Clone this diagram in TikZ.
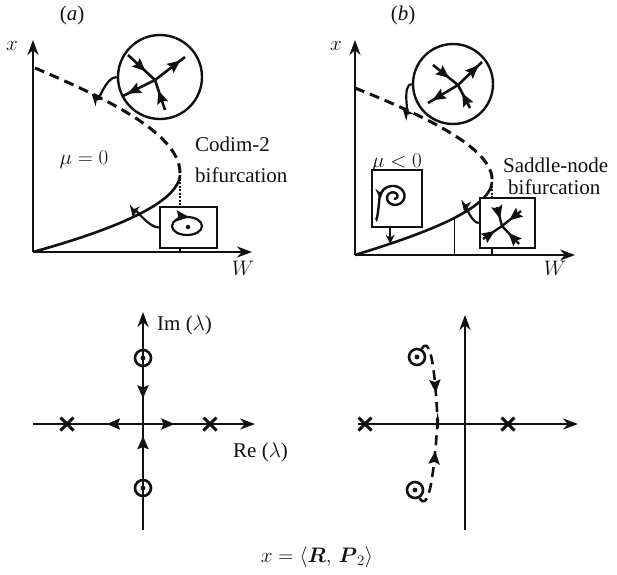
\RequirePackage{fix-cm}
\documentclass[tikz,border=0pt]{standalone}
\usepackage{amsmath}
\usepackage{fontspec}
\setmainfont{Liberation Serif}
\usepackage{tikz}
\usetikzlibrary{arrows.meta, decorations.markings, shapes.misc}
\definecolor{ink}{HTML}{111111}
\tikzset{
  axisline/.style={draw=ink, line width=2.8pt, -{Stealth[length=15pt,width=11pt]}},
  branch/.style={draw=ink, line width=2.6pt},
  unstable/.style={draw=ink, line width=3pt, dash pattern=on 10pt off 6pt},
  guide/.style={draw=ink, line width=1.2pt, dash pattern=on 2pt off 1.5pt},
  tick/.style={draw=ink, line width=1.4pt},
  inset/.style={draw=ink, line width=2.4pt, fill=white, inner sep=0pt},
  flow/.style={draw=ink, line width=2.2pt, -{Stealth[length=12pt,width=10pt]}},
  midarrow/.style={postaction={decorate}, decoration={markings, mark=at position #1 with {\arrow[ink]{Stealth[length=13pt,width=11pt,inset=2pt]}}}},
  eig/.style={circle, draw=ink, line width=2.6pt, minimum size=16pt, inner sep=0pt},
  pole/.style={cross out, draw=ink, line width=3pt, minimum size=10pt, inner sep=0pt},
  lab/.style={font=\fontsize{21}{24}\selectfont, inner sep=0pt, text=ink},
}

\begin{document}
\begin{tikzpicture}[x=1pt, y=-1pt]
  \fill[white] (0,0) rectangle (617,574);
  \useasboundingbox (0,0) rectangle (617,574);

  % (a) codim-2 bifurcation
  \coordinate (oA) at (33,252);
  \coordinate (noseA) at (180,175);
  \draw[axisline] (oA) -- (33,40);
  \draw[axisline] (oA) -- (252,252);
  \node[lab] at (12,46) {$x$};
  \node[lab] at (243,268) {$W$};
  \node[lab] at (72,15) {(\textit{a})};
  \draw[unstable] (35,68) .. controls (110,100) and (182,135) .. (noseA) coordinate[pos=0.26] (dashA);
  \draw[branch] (noseA) .. controls (178,205) and (105,232) .. (oA) coordinate[pos=0.5] (solA);
  \node[lab, anchor=base west] at (195,151) {Codim-2};
  \node[lab, anchor=base west] at (195,182) {bifurcation};
  \node[lab] at (84,160) {$\mu = 0$};

  \node[inset, circle, minimum size=84pt] (sadA) at (160,77) {};
  \coordinate (cA) at (155,80);
  \draw[branch, midarrow=0.65] (128,55) -- (cA);
  \draw[branch, midarrow=0.65] (165,110) -- (cA);
  \draw[branch, midarrow=0.85] (cA) -- (185,57);
  \draw[branch, midarrow=0.85] (cA) -- (123,96);
  \draw[flow] (sadA.west) to[out=180, in=-50] (dashA);

  \node[inset, rectangle, minimum width=57pt, minimum height=41pt] (focA) at (188.5,227.5) {};
  \draw[branch, line width=2.2pt, midarrow=0.78] (187,226) ellipse [x radius=15, y radius=9];
  \fill[ink] (188,227) circle [radius=2.2];
  \draw[guide] (noseA) -- (noseA |- focA.north);
  \draw[tick] (noseA |- focA.south) -- (noseA |- oA);
  \draw[flow] (focA.west) to[out=180, in=80] (solA);

  % (b) saddle-node bifurcation
  \coordinate (oB) at (355,255);
  \coordinate (noseB) at (492,182);
  \draw[axisline] (oB) -- (355,40);
  \draw[axisline] (oB) -- (575,255);
  \node[lab] at (336,46) {$x$};
  \node[lab] at (555,268) {$W$};
  \node[lab] at (403,15) {(\textit{b})};
  \draw[unstable] (355,88) .. controls (430,118) and (495,150) .. (noseB) coordinate[pos=0.22] (dashB);
  \draw[branch] (noseB) .. controls (490,210) and (420,235) .. (oB)
    coordinate[pos=0.38] (armB) coordinate[pos=0.45] (midB) coordinate[pos=0.82] (lowB);
  \node[lab, anchor=base west] at (503,172) {Saddle-node};
  \node[lab, anchor=base west] at (508,194) {bifurcation};
  \node[lab] at (397,163) {$\mu < 0$};

  \node[inset, circle, minimum size=80pt] (sadB) at (453,84) {};
  \coordinate (cB) at (458,85);
  \draw[branch, midarrow=0.65] (433,65) -- (cB);
  \draw[branch, midarrow=0.65] (470,108) -- (cB);
  \draw[branch, midarrow=0.85] (cB) -- (482,62);
  \draw[branch, midarrow=0.85] (cB) -- (428,103);
  \draw[flow] (sadB.west) to[out=180, in=-50] (dashB);

  \node[inset, rectangle, minimum width=50pt, minimum height=57pt] (focB) at (397,198.5) {};
  \draw[branch, line width=2.4pt] plot[domain=0:1, samples=70, variable=\t]
    ({394 + (1.5+12.5*(1-\t))*cos(180+630*\t)}, {197 + 0.9*(1.5+12.5*(1-\t))*sin(180+630*\t)});
  \draw[branch, line width=2.4pt, -{Stealth[length=10pt,width=9pt]}] (376,218) to[out=-80, in=90] (380,199);
  \draw[flow, -{Stealth[length=9pt,width=9pt]}] (focB.south -| lowB) -- (lowB);

  \node[inset, rectangle, minimum width=55pt, minimum height=50pt] (nodeB) at (507.5,223) {};
  \coordinate (cN) at (502,226);
  \draw[branch, line width=2.4pt, midarrow=0.62] (497,207) -- (cN);
  \draw[branch, line width=2.4pt, midarrow=0.62] (521,211) -- (cN);
  \draw[branch, line width=2.4pt, midarrow=0.62] (483,239) -- (cN);
  \draw[branch, line width=2.4pt, midarrow=0.62] (519,244) -- (cN);
  \draw[guide] (noseB) -- (noseB |- nodeB.north);
  \draw[tick] (noseB |- nodeB.south) -- (noseB |- oB);
  \draw[tick] (midB) -- (midB |- oB);
  \draw[flow] (nodeB.west) to[out=180, in=80] (armB);

  % eigenvalues, mu = 0
  \coordinate (oC) at (143,424);
  \draw[axisline] (143,530) -- (143,312);
  \draw[axisline] (33,424) -- (255,424);
  \node[eig] (eigC1) at (143,358) {};
  \node[eig] (eigC2) at (143,488) {};
  \fill[ink] (eigC1) circle [radius=2.4];
  \fill[ink] (eigC2) circle [radius=2.4];
  \node[pole] (poleC1) at (67,424) {};
  \node[pole] (poleC2) at (210,424) {};
  \draw[branch, midarrow=0.55] (eigC1) -- (oC);
  \draw[branch, midarrow=0.78] (eigC2) -- (oC);
  \draw[branch, midarrow=0.52] (oC) -- (poleC1);
  \draw[branch, midarrow=0.52] (oC) -- (poleC2);
  \node[lab, anchor=west] at (157,325) {Im ($\lambda$)};
  \node[lab, anchor=west] at (233,452) {Re ($\lambda$)};

  % eigenvalues, mu < 0
  \coordinate (oD) at (465,424);
  \coordinate (meetD) at (438,424);
  \draw[axisline] (465,530) -- (465,315);
  \draw[axisline] (358,424) -- (578,424);
  \node[pole] (poleD1) at (365,424) {};
  \node[pole] (poleD2) at (508,424) {};
  \node[eig] (eigD1) at (417,357) {};
  \node[eig] (eigD2) at (415,490) {};
  \fill[ink] (eigD1) circle [radius=2.4];
  \fill[ink] (eigD2) circle [radius=2.4];
  \draw[unstable, line width=2.6pt, midarrow=0.58] (eigD1) to[out=60, in=-90] (meetD);
  \draw[unstable, line width=2.6pt, midarrow=0.62] (eigD2) to[out=-60, in=90] (meetD);

  \node[lab] at (317,557) {$x = \langle \boldsymbol{R},\, \boldsymbol{P}_{2} \rangle$};
\end{tikzpicture}
\end{document}
